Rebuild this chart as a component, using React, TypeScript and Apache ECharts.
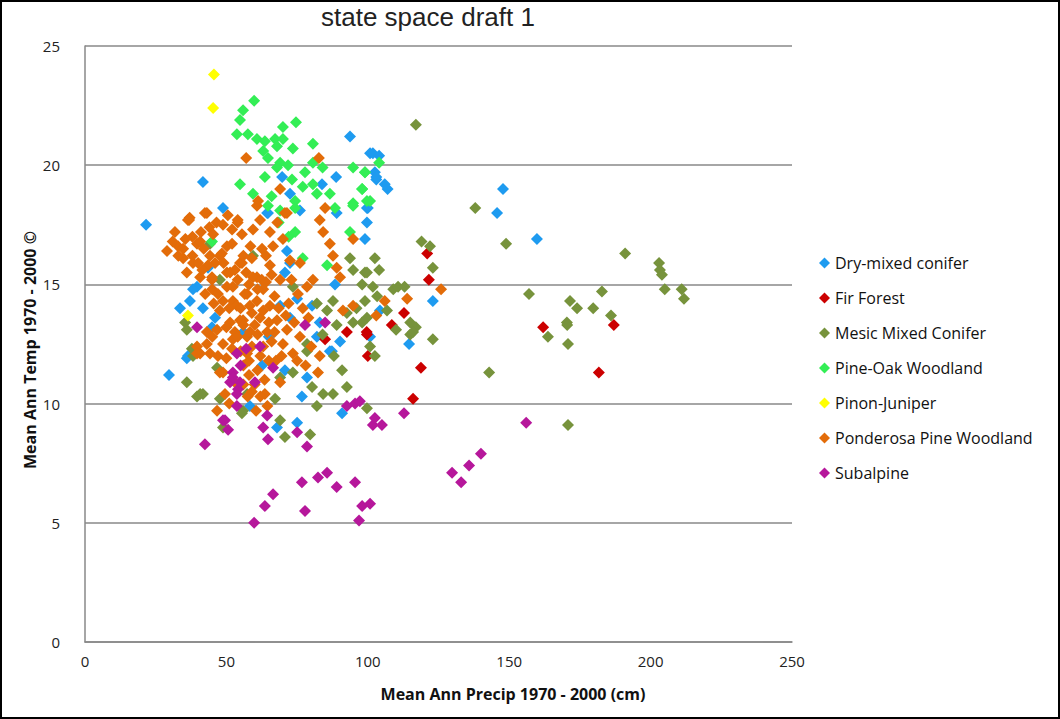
import React, { useEffect, useRef } from "react";
import * as echarts from "echarts";

const seriesNames = [
  "Dry-mixed conifer",
  "Fir Forest",
  "Mesic Mixed Conifer",
  "Pine-Oak Woodland",
  "Pinon-Juniper",
  "Ponderosa Pine Woodland",
  "Subalpine",
];

const xTicks = [0, 50, 100, 150, 200, 250];
const yTicks = [0, 5, 10, 15, 20, 25];

const dryMixed = [
  [21.6, 17.5], [41.7, 19.3], [48.8, 18.2], [29.7, 11.2], [36, 11.9], [36.4, 12.0], [43.5, 15.7], [39.6, 14.9],
  [37.1, 14.3], [33.6, 14.0], [41.7, 14.0], [46, 13.6], [44.9, 13.2], [38.2, 14.8], [93.7, 21.2], [100.8, 20.5],
  [102.5, 19.7], [88.8, 19.5], [103, 19.4], [72.5, 18.8], [64.4, 18.0], [76, 18.1], [89, 18.0], [100, 18.2],
  [69.7, 19.5], [83.8, 19.2], [101.8, 20.5], [103, 19.5], [107, 19.0], [147.8, 19.0], [145.7, 18.0], [159.8, 16.9],
  [99.7, 18.2], [99.7, 17.6], [99, 16.9], [123, 14.3], [114.6, 12.5], [64.7, 18.0], [72.5, 15.9], [71.4, 16.4],
  [70.7, 15.5], [88.4, 15.0], [69, 14.1], [72.5, 13.6], [75, 14.4], [80.3, 14.1], [83, 13.4], [82, 12.8],
  [90.2, 12.6], [86.6, 12.2], [100.8, 12.8], [104.3, 13.9], [87.3, 12.2], [62.6, 11.6], [78.5, 11.1], [76.7, 10.3],
  [75, 9.2], [67.9, 9.0], [58.3, 9.9], [90.9, 9.6], [104, 20.4], [106, 19.2], [70.7, 11.4], [65, 12.8], [56, 13.0],
];

const firForest = [
  [121, 16.3], [121.6, 15.2], [112.8, 13.8], [108.5, 13.3], [99.6, 13.0], [100, 12.0], [118.8, 11.5], [116, 10.2],
  [162, 13.2], [187, 13.3], [181.7, 11.3], [84.9, 12.7], [92.6, 13.0], [99.7, 12.9],
];

const mesicMixed = [
  [117, 21.7], [138, 18.2], [148.9, 16.7], [119, 16.8], [122, 16.6], [123, 15.7], [157, 14.6], [171.5, 14.3],
  [174, 14.0], [179.7, 14.0], [182.8, 14.7], [170.4, 13.4], [170.5, 13.3], [170.8, 12.5], [163.7, 12.8], [170.8, 9.1],
  [186, 13.7], [191, 16.3], [203, 15.9], [203.3, 15.6], [204, 15.4], [205, 14.8], [211, 14.8], [211.8, 14.4],
  [142.9, 11.3], [99, 15.5], [102.5, 16.1], [104, 15.6], [101.8, 14.9], [109, 14.8], [110.7, 14.9], [99, 14.3],
  [106.8, 13.9], [115, 13.4], [117, 13.2], [110, 13.1], [98, 13.4], [100.8, 12.4], [102.5, 12.0], [115, 12.9],
  [123, 12.7], [99.7, 9.8], [93.7, 16.1], [94.8, 15.6], [99.7, 15.5], [98, 15.0], [87.7, 14.3], [85.6, 13.9],
  [92.6, 13.8], [103.3, 14.5], [94.8, 13.4], [99.7, 13.6], [78.5, 12.5], [78.5, 12.2], [73.5, 14.9], [59.4, 16.2],
  [44.2, 16.7], [35.4, 13.4], [36, 13.1], [37.8, 12.3], [38.2, 12.0], [36, 10.9], [40.7, 10.4], [41.7, 10.4],
  [39.6, 10.3], [47.7, 10.2], [57.3, 10.4], [67.2, 10.2], [69, 9.3], [70.7, 8.6], [79.6, 8.7], [90.9, 11.4],
  [92.6, 10.7], [82, 9.9], [73.5, 11.3], [80.3, 10.7], [84.2, 10.4], [87.7, 10.4], [55.9, 9.7], [48.8, 9.0],
  [46.7, 11.5], [69, 11.1], [55.5, 9.6], [47.7, 15.2], [116, 13.0], [113, 14.9], [82, 14.2], [84, 12.9],
  [89, 13.3], [96, 14.0], [88, 12.0],
];

const pineOak = [
  [59.8, 22.7], [55.9, 22.3], [54.8, 21.9], [74.6, 21.8], [70, 21.6], [53.7, 21.3], [57.6, 21.3], [60.8, 21.1],
  [63.6, 21.0], [67.2, 21.1], [70, 21.1], [67.9, 20.8], [80.6, 20.9], [73.5, 20.7], [63, 20.6], [64.7, 20.3],
  [69, 20.1], [67.9, 19.9], [71.8, 20.0], [77.8, 19.7], [80.6, 20.1], [84, 19.9], [94.8, 19.9], [99, 19.7],
  [54.8, 19.2], [63.6, 19.5], [73.2, 19.4], [77, 19.1], [80.6, 19.2], [82, 18.8], [86.6, 18.8], [59.4, 18.8],
  [66, 18.7], [74.3, 18.5], [88.4, 18.2], [94.8, 18.4], [98, 19.0], [100.8, 18.5], [44.9, 16.8], [64.7, 18.3],
  [69, 18.1], [74.3, 18.2], [94.8, 18.3], [99.7, 18.5], [77, 16.1], [93.7, 17.2], [85.6, 15.8], [74.3, 17.2],
  [104, 20.1], [99, 19.7], [98, 19.0], [68.5, 17.6], [72, 17.0],
];

const pinonJuniper = [
  [45.6, 23.8], [45.3, 22.4], [36.4, 13.7],
];

const ponderosa = [
  [29, 16.4], [31.8, 17.2], [32.9, 16.6], [34.7, 16.1], [34.7, 16.5], [36.4, 17.7], [36.8, 17.7], [38.2, 15.9],
  [39.6, 16.7], [40, 15.9], [40.7, 16.8], [40.7, 15.3], [42.4, 18.0], [43.1, 18.0], [44.2, 16.2], [44.9, 15.2],
  [44.9, 15.3], [45.3, 17.1], [47.7, 16.2], [48.4, 16.3], [48.8, 17.5], [50.2, 16.6], [50.2, 15.5], [51.3, 15.5],
  [52, 16.7], [54, 17.6], [54, 17.7], [54.8, 15.9], [55.5, 15.9], [59, 16.1], [57, 20.3], [60.8, 18.3],
  [61.2, 18.5], [61.9, 17.7], [59.4, 17.3], [65.4, 17.2], [69, 19.0], [70.7, 18.0], [71.4, 18.0], [70, 16.9],
  [62.6, 16.5], [65.4, 15.8], [60.8, 15.3], [59.4, 15.3], [63, 14.8], [57.3, 14.6], [52.3, 14.9], [50.2, 14.9],
  [48.8, 14.3], [52.3, 14.3], [53.7, 14.1], [58.3, 14.1], [60.8, 14.3], [65.4, 14.1], [69, 15.2], [61.9, 13.6],
  [67.9, 13.5], [55.9, 13.5], [54.8, 13.5], [51.3, 13.4], [47.7, 13.9], [46.7, 13.1], [43.1, 13.0], [43.1, 12.5],
  [40.7, 12.1], [39.6, 12.4], [44.2, 12.1], [48.8, 12.5], [52.3, 12.7], [57.3, 12.8], [58.3, 13.0], [57.3, 12.1],
  [64.4, 13.0], [71.4, 13.1], [70, 12.5], [63, 12.4], [73.5, 12.1], [82.7, 20.3], [84.9, 18.2], [83, 17.7],
  [84.2, 17.2], [86.6, 16.7], [87.7, 16.2], [89, 15.7], [90.2, 15.3], [80.6, 15.2], [78.5, 14.9], [94.8, 16.9],
  [72.5, 16.0], [75.3, 14.6], [83, 12.0], [94.8, 14.1], [91.2, 13.9], [37, 17.8], [103, 13.7], [106, 14.3],
  [113.9, 14.4], [125.9, 14.8], [46.7, 9.7], [47.7, 11.3], [39.6, 12.1], [82.4, 11.3], [63.6, 10.4], [69, 10.9],
  [48.8, 11.3], [55, 12.2], [56, 11.6], [58, 11.2], [60, 10.8], [62, 10.3], [63.5, 11.0], [65, 11.8],
  [66, 12.6], [67, 13.0], [61, 12.9], [59, 13.8], [56.5, 14.6], [54, 15.2], [53, 15.6], [56, 16.2],
  [58, 15.0], [62.5, 15.2], [64, 16.2], [66.5, 16.6], [68, 17.6], [67, 14.5], [68.5, 14.0], [72, 14.2],
  [74, 13.4], [76, 12.8], [75, 11.8], [78, 11.6], [80, 12.4], [79, 13.6], [46, 15.9], [42, 16.5],
  [38, 16.2], [36, 15.5], [42.5, 14.6], [45.5, 14.2], [50, 13.2], [53, 10.9], [57.5, 10.3], [60.5, 9.7],
  [64.5, 9.9], [45, 14.8], [47, 14.6], [49, 15.9], [51, 14.0], [53, 13.0], [55, 14.0], [56, 13.3],
  [57, 15.5], [59, 12.4], [60, 13.3], [61, 14.8], [62, 12.0], [63, 13.9], [64, 15.1], [65, 13.4],
  [66, 15.4], [58.5, 16.6], [55.5, 17.1], [52, 17.3], [50.5, 17.9], [46.5, 17.6], [44, 17.4], [41, 17.2],
  [38, 17.0], [35.5, 16.9], [33, 16.2], [31, 16.8], [43.5, 15.8], [41.5, 15.6], [47, 12.0], [45, 12.8],
  [50, 11.9], [52, 12.3], [54, 12.8], [58, 11.8], [61, 11.4], [56, 10.8], [59, 10.5], [49.5, 10.4],
  [51, 10.0], [67.5, 11.8], [69.5, 12.0], [71, 13.7], [73, 15.2], [76, 15.9], [77, 14.0],
];

const subalpine = [
  [39.6, 13.2], [61.9, 12.4], [53.7, 12.1], [77.8, 13.3], [84.9, 13.4], [52.3, 11.3], [51.3, 10.9], [54.1, 10.6],
  [60.1, 10.9], [66.5, 11.5], [53.7, 9.9], [64.4, 9.5], [63, 9.0], [64.7, 8.5], [50.6, 8.9], [49.5, 9.3],
  [42.4, 8.3], [75, 8.8], [78.5, 8.2], [95.5, 10.0], [92.6, 9.9], [101.8, 9.1], [76.7, 6.7], [82.4, 6.9],
  [85.6, 7.1], [89, 6.5], [95.5, 6.7], [66.5, 6.2], [63.6, 5.7], [77.8, 5.5], [98, 5.7], [100.8, 5.8],
  [59.8, 5.0], [96.9, 5.1], [52.3, 11.1], [54.8, 10.9], [53.7, 10.4], [48.8, 9.3], [97.2, 10.1], [112.8, 9.6],
  [102.5, 9.4], [105, 9.1], [156, 9.2], [140, 7.9], [135.8, 7.4], [129.8, 7.1], [133, 6.7], [55, 11.6],
  [57, 12.3],
];

const seriesData = [dryMixed, firForest, mesicMixed, pineOak, pinonJuniper, ponderosa, subalpine];
const seriesColors = ["#1E9BF0", "#CC0000", "#77933C", "#33EE55", "#FFFF00", "#E36C09", "#B6179B"];

export default function App() {
  const ref = useRef<HTMLDivElement>(null);
  useEffect(() => {
    document.body.style.margin = "0";
    if (!ref.current) return;
    const chart = echarts.init(ref.current, undefined, { renderer: "svg" });
    const font = "'Open Sans', 'Liberation Sans', sans-serif";
    chart.setOption({
      animation: false,
      backgroundColor: "#ffffff",
      title: {
        text: "state space draft 1",
        left: 316,
        top: -1,
        textStyle: { fontFamily: "'Liberation Sans', Arial, sans-serif", fontSize: 26, fontWeight: "normal", color: "#222" },
      },
      grid: { left: 85, right: 268, top: 46, bottom: 77 },
      xAxis: {
        type: "value",
        min: xTicks[0],
        max: xTicks[xTicks.length - 1],
        interval: 50,
        axisLine: { show: true, lineStyle: { color: "#888", width: 1.5 } },
        axisTick: { show: false },
        splitLine: { show: false },
        axisLabel: { margin: 11, fontFamily: font, fontSize: 15, color: "#222" },
      },
      yAxis: {
        type: "value",
        min: yTicks[0],
        max: yTicks[yTicks.length - 1],
        interval: 5,
        axisLine: { show: true, lineStyle: { color: "#888", width: 1.5 } },
        axisTick: { show: false },
        splitLine: { show: true, lineStyle: { color: "#888", width: 1.5 } },
        axisLabel: { margin: 25, fontFamily: font, fontSize: 15, color: "#222" },
      },
      legend: {
        orient: "vertical",
        left: 814,
        top: 250,
        icon: "diamond",
        itemWidth: 11,
        itemHeight: 11,
        itemGap: 19,
        textStyle: { fontFamily: font, fontSize: 16, color: "#111" },
        data: seriesNames,
      },
      graphic: [
        {
          type: "rect",
          shape: { x: 1, y: 1, width: 1058, height: 717 },
          style: { fill: "none", stroke: "#000", lineWidth: 2 },
          silent: true,
        },
        {
          type: "text",
          x: 513,
          y: 694,
          style: {
            text: "Mean Ann Precip 1970 - 2000 (cm)",
            fontFamily: font,
            fontSize: 16,
            fontWeight: "bold",
            fill: "#111",
            align: "center",
            verticalAlign: "middle",
          },
        },
        {
          type: "text",
          x: 30,
          y: 350,
          rotation: Math.PI / 2,
          style: {
            text: "Mean Ann Temp 1970 - 2000 ©",
            fontFamily: font,
            fontSize: 16,
            fontWeight: "bold",
            fill: "#111",
            align: "center",
            verticalAlign: "middle",
          },
        },
      ],
      series: seriesNames.map((name, i) => ({
        name,
        type: "scatter",
        symbol: "diamond",
        symbolSize: 12,
        itemStyle: { color: seriesColors[i], opacity: 1 },
        data: seriesData[i],
      })),
    });
    return () => chart.dispose();
  }, []);
  return <div ref={ref} style={{ width: 1060, height: 719 }} />;
}
